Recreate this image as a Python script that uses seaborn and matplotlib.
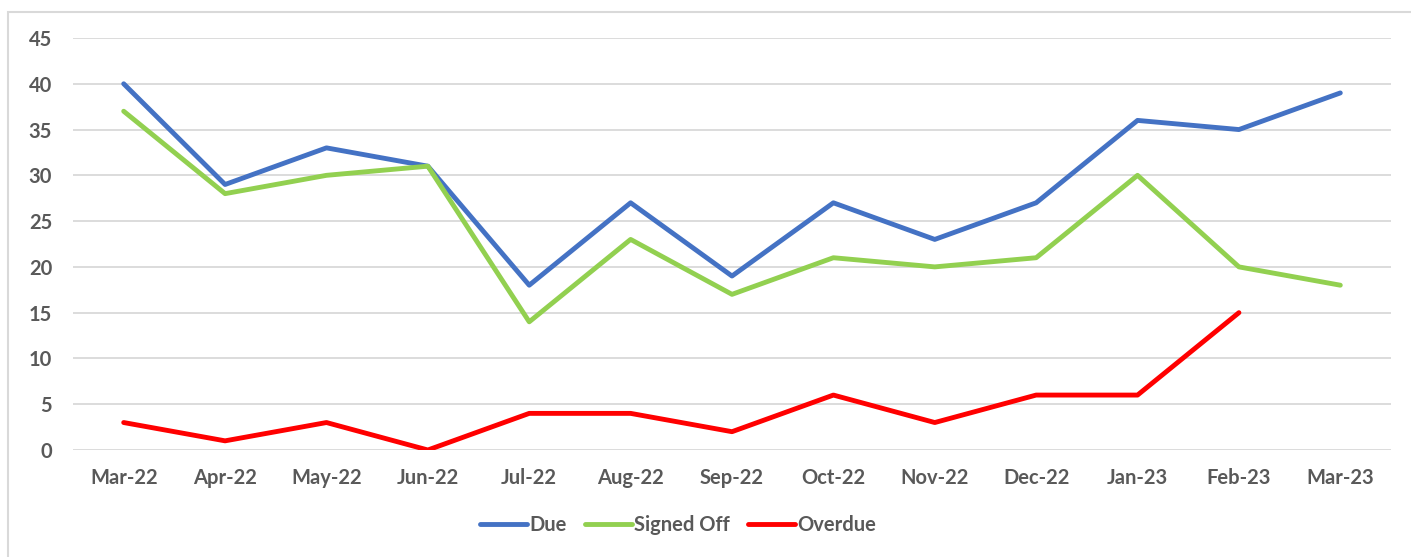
import numpy as np
import pandas as pd
import matplotlib
matplotlib.use("Agg")
import matplotlib.pyplot as plt
import seaborn as sns

months = ["Mar-22", "Apr-22", "May-22", "Jun-22", "Jul-22", "Aug-22", "Sep-22",
          "Oct-22", "Nov-22", "Dec-22", "Jan-23", "Feb-23", "Mar-23"]
due = [40, 29, 33, 31, 18, 27, 19, 27, 23, 27, 36, 35, 39]
signed_off = [37, 28, 30, 31, 14, 23, 17, 21, 20, 21, 30, 20, 18]
overdue = [3, 1, 3, 0, 4, 4, 2, 6, 3, 6, 6, 15, np.nan]

series_names = ["Due", "Signed Off", "Overdue"]
palette = {"Due": "#4472C4", "Signed Off": "#92D050", "Overdue": "#FF0000"}

df = pd.DataFrame({"Month": months, "Due": due, "Signed Off": signed_off, "Overdue": overdue})
long_df = df.melt(id_vars="Month", var_name="Series", value_name="Count").dropna()

sns.set_style("white")
plt.rcParams["font.family"] = ["Lato", "DejaVu Sans"]
text_color = "#595959"
fsize = 14.5

fig = plt.figure(figsize=(14.11, 5.57), dpi=100)
ax = fig.add_axes([73 / 1411, 1 - 450 / 557, (1391 - 73) / 1411, (450 - 38) / 557])

sns.lineplot(data=long_df, x="Month", y="Count", hue="Series", hue_order=series_names,
             palette=palette, sort=False, linewidth=3.5, ax=ax,
             solid_capstyle="round", solid_joinstyle="round")

ax.set_xlim(-0.5, len(months) - 0.5)
ax.set_ylim(0, 45)
ax.set_yticks(range(0, 50, 5))
ax.yaxis.grid(True, color="#D9D9D9", linewidth=1.3)
ax.set_axisbelow(True)
for side in ["top", "right", "left", "bottom"]:
    ax.spines[side].set_visible(False)
ax.tick_params(axis="both", length=0, labelsize=fsize, labelcolor=text_color)
ax.tick_params(axis="x", pad=13)
ax.tick_params(axis="y", pad=15)
for lbl in ax.get_xticklabels() + ax.get_yticklabels():
    lbl.set_fontweight("bold")
ax.set_xlabel("")
ax.set_ylabel("")

handles, labels = ax.get_legend_handles_labels()
ax.legend(handles, labels, loc="center", bbox_to_anchor=(0.459, -0.183), ncol=3,
          frameon=False, handlelength=2.35, handletextpad=0.1, columnspacing=0.9,
          prop={"size": fsize, "weight": "bold"}, labelcolor=text_color)

# chart border (top and left visible, right/bottom cut off)
fig.patches.append(plt.Rectangle((8 / 1411, -0.1), 1.2, (557 - 12) / 557 + 0.1,
                                 transform=fig.transFigure, fill=False,
                                 edgecolor="#D9D9D9", linewidth=1.5))

fig.savefig("out.png", dpi=100)
